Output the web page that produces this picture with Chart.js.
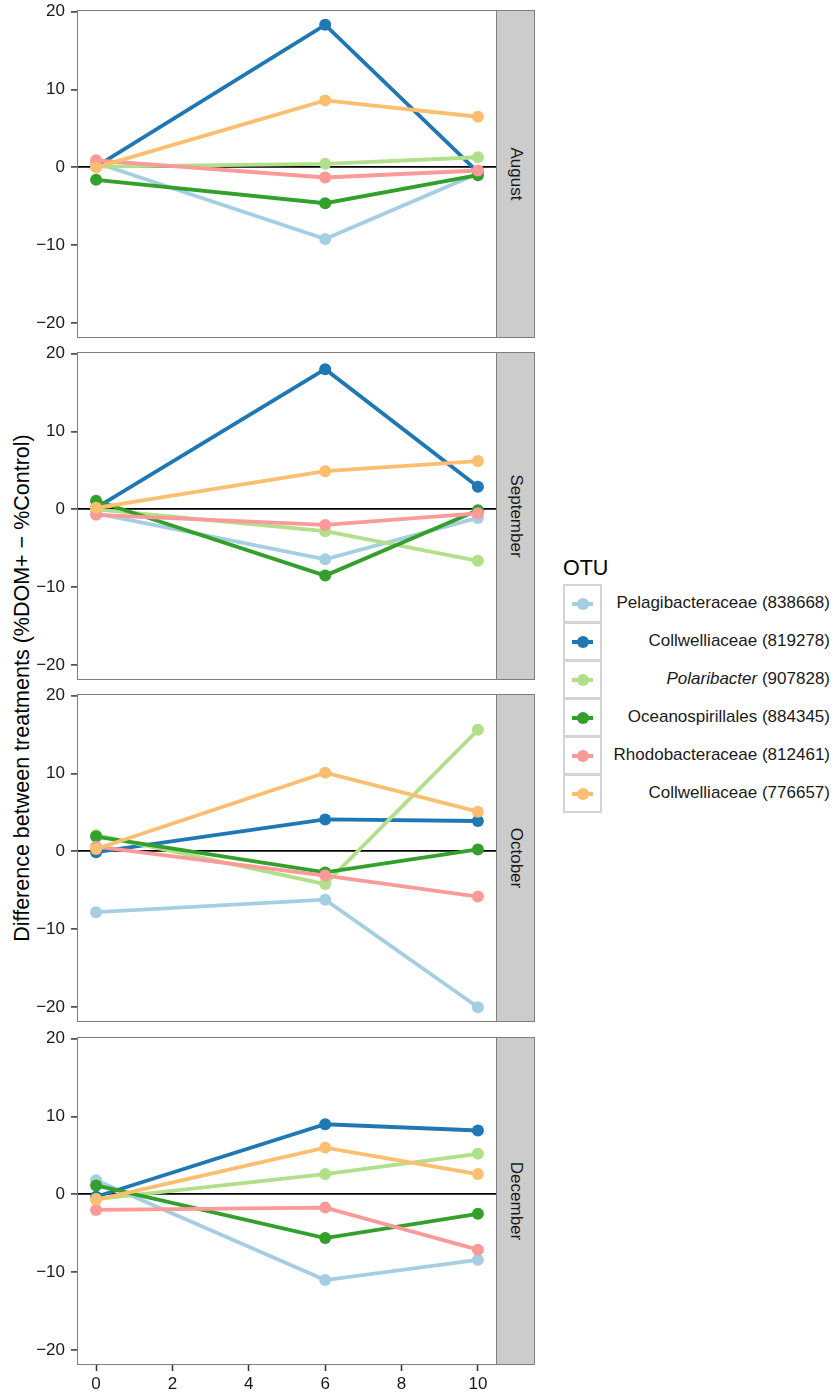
<!DOCTYPE html>
<html lang="en">
<head>
<meta charset="UTF-8">
<title>OTU difference between treatments</title>
<style>
  body { margin: 0; background: #fff; font-family: 'Liberation Sans', Arial, sans-serif; color: #1a1a1a; }
  #page { position: relative; width: 836px; height: 1397px; overflow: hidden; }
  canvas { position: absolute; left: 0; }
  .strip {
    position: absolute; left: 496px; width: 39px;
    background: #cccccc; border: 1px solid #7f7f7f; box-sizing: border-box;
  }
  .strip span {
    position: absolute; left: 50%; top: 50%;
    transform: translate(-50%, -50%) rotate(90deg);
    white-space: nowrap; font-size: 17px; color: #1a1a1a;
  }
  #ytitle {
    position: absolute; left: 22px; top: 688px;
    transform: translate(-50%, -50%) rotate(-90deg);
    white-space: nowrap; font-size: 21.5px; color: #000;
  }
  #legend { position: absolute; left: 563px; top: 556px; }
  #legend .title { font-size: 21.5px; color: #000; height: 28px; }
  .key-row { position: relative; height: 38px; width: 270px; }
  .key {
    position: absolute; left: 0; top: 0; width: 39px; height: 39px;
    border: 2px solid #d4d4d4; box-sizing: border-box; background: #fff;
  }
  .key i { position: absolute; left: 7px; top: 16px; width: 21px; height: 3.5px; }
  .key b { position: absolute; left: 11.5px; top: 11.5px; width: 12px; height: 12px; border-radius: 50%; }
  .key-row span {
    position: absolute; right: 3px; top: 50%; transform: translateY(-50%);
    font-size: 17px; white-space: nowrap; color: #1a1a1a;
  }
</style>
<script src="https://cdn.jsdelivr.net/npm/chart.js"></script>
</head>
<body>
<div id="page">
  <div id="ytitle">Difference between treatments (%DOM+ − %Control)</div>
  <div id="legend"></div>
</div>

<script>
  // x positions (days) and series, rows follow otuNames order
  const days = [0, 6, 10];
  const xTicks = [0, 2, 4, 6, 8, 10];
  const yTicks = [-20, -10, 0, 10, 20];
  const months = ['August', 'September', 'October', 'December'];
  const otuNames = [
    'Pelagibacteraceae (838668)',
    'Collwelliaceae (819278)',
    'Polaribacter (907828)',
    'Oceanospirillales (884345)',
    'Rhodobacteraceae (812461)',
    'Collwelliaceae (776657)'
  ];
  const otuColors = ['#a6cee3', '#1f78b4', '#b2df8a', '#33a02c', '#fb9a99', '#fdbf6f'];

  const august = [
    [0.6, -9.2, -0.8],
    [0.1, 18.3, -0.6],
    [0.1, 0.45, 1.3],
    [-1.6, -4.6, -1.0],
    [0.9, -1.3, -0.4],
    [0.0, 8.6, 6.5]
  ];
  const september = [
    [-0.5, -6.4, -1.1],
    [0.2, 18.0, 2.9],
    [0.0, -2.8, -6.6],
    [1.1, -8.5, -0.1],
    [-0.7, -2.0, -0.5],
    [0.2, 4.9, 6.2]
  ];
  const october = [
    [-7.8, -6.2, -20.0],
    [-0.1, 4.1, 3.9],
    [2.1, -4.2, 15.6],
    [1.9, -2.7, 0.25],
    [0.6, -3.1, -5.8],
    [0.3, 10.1, 5.1]
  ];
  const december = [
    [1.8, -11.0, -8.4],
    [-0.3, 9.0, 8.2],
    [-0.6, 2.6, 5.2],
    [1.15, -5.6, -2.5],
    [-2.0, -1.7, -7.1],
    [-0.7, 6.0, 2.6]
  ];
  const monthRows = [august, september, october, december];

  // layout
  const panelTops = [10, 352, 694, 1037];
  const panelH = 328;
  const padTop = 12;
  const axisH = 40;

  const frame = {
    id: 'frame',
    afterDraw(chart) {
      const a = chart.chartArea, c = chart.ctx;
      c.save();
      c.strokeStyle = '#7f7f7f';
      c.lineWidth = 1;
      c.strokeRect(Math.round(a.left) + 0.5, Math.round(a.top) + 0.5,
        Math.round(a.right - a.left) - 1, Math.round(a.bottom - a.top) - 1);
      c.restore();
    }
  };

  const page = document.getElementById('page');

  months.forEach((month, m) => {
    const last = m === months.length - 1;
    const cv = document.createElement('canvas');
    const h = padTop + panelH + (last ? axisH : padTop);
    cv.width = 497;
    cv.height = h;
    cv.style.top = (panelTops[m] - padTop) + 'px';
    page.appendChild(cv);

    const strip = document.createElement('div');
    strip.className = 'strip';
    strip.style.top = panelTops[m] + 'px';
    strip.style.height = panelH + 'px';
    strip.innerHTML = '<span>' + month + '</span>';
    page.appendChild(strip);

    const rows = monthRows[m];
    new Chart(cv.getContext('2d'), {
      type: 'line',
      data: {
        datasets: otuNames.map((name, k) => ({
          label: name,
          data: days.map((d, j) => ({ x: d, y: rows[k][j] })),
          borderColor: otuColors[k],
          backgroundColor: otuColors[k],
          borderWidth: 3.8,
          pointRadius: 6,
          pointHoverRadius: 6,
          pointBorderWidth: 0,
          order: otuNames.length - k,
          tension: 0
        }))
      },
      options: {
        responsive: false,
        animation: false,
        layout: { autoPadding: false, padding: { top: padTop, bottom: last ? 0 : padTop, left: 0, right: 0 } },
        plugins: { legend: { display: false }, tooltip: { enabled: false } },
        scales: {
          x: {
            type: 'linear',
            min: -0.5, max: 10.5,
            display: last,
            afterBuildTicks: s => { s.ticks = xTicks.map(v => ({ value: v })); },
            afterFit: s => {
              s.height = last ? axisH : 0;
              s.paddingLeft = 0; s.paddingRight = 0;
            },
            grid: { drawOnChartArea: false, tickLength: 6, tickColor: '#333', tickWidth: 1.5 },
            border: { display: false },
            ticks: { font: { family: 'Liberation Sans', size: 17 }, color: '#1a1a1a', padding: 3, maxRotation: 0 }
          },
          y: {
            min: -21.9, max: 20.2,
            afterBuildTicks: s => { s.ticks = yTicks.map(v => ({ value: v })); },
            afterFit: s => {
              s.width = 77;
              s.paddingTop = 0; s.paddingBottom = 0;
            },
            grid: {
              color: c => (c.tick && c.tick.value === 0) ? '#000' : 'rgba(0,0,0,0)',
              lineWidth: 1.8,
              tickLength: 6, tickColor: '#333', tickWidth: 1.5
            },
            border: { display: false },
            ticks: {
              font: { family: 'Liberation Sans', size: 17 }, color: '#1a1a1a', padding: 6,
              callback: v => v < 0 ? '\u2212' + Math.abs(v) : String(v)
            }
          }
        }
      },
      plugins: [frame]
    });
  });

  // legend
  const legend = document.getElementById('legend');
  let html = '<div class="title">OTU</div>';
  otuNames.forEach((name, k) => {
    const label = name.startsWith('Polaribacter')
      ? '<em>Polaribacter</em>' + name.slice('Polaribacter'.length)
      : name;
    html += '<div class="key-row"><div class="key">' +
      '<i style="background:' + otuColors[k] + '"></i>' +
      '<b style="background:' + otuColors[k] + '"></b></div>' +
      '<span>' + label + '</span></div>';
  });
  legend.innerHTML = html;
</script>
</body>
</html>
